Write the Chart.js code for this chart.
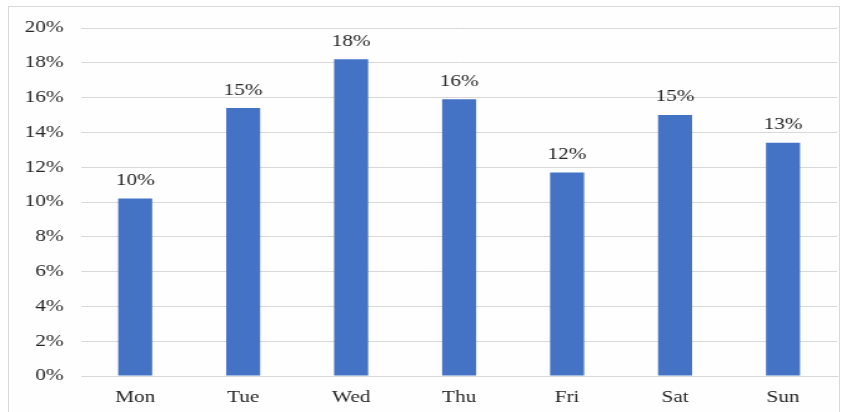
<!DOCTYPE html>
<html>
<head>
<meta charset="utf-8">
<script src="https://cdn.jsdelivr.net/npm/chart.js@4/dist/chart.umd.min.js"></script>
<style>
  html, body { margin: 0; padding: 0; background: #fff; }
  #wrap { position: relative; width: 852px; height: 412px; overflow: hidden; }
  #frame { position: absolute; left: 8px; top: 6px; width: 832px; height: 420px;
           border: 1px solid #d9d9d9; background: #fefefe; box-sizing: border-box; }
  #chart { position: absolute; left: 0; top: 0; }
</style>
</head>
<body>
<div id="wrap">
  <div id="frame"></div>
  <!-- drawn narrower and widened by CSS, text comes out horizontally stretched -->
  <canvas id="chart" width="682" height="412" style="width:852px;height:412px"></canvas>
</div>
<script>
// Share per weekday (%)
const days = ['Mon', 'Tue', 'Wed', 'Thu', 'Fri', 'Sat', 'Sun'];
const shares = [10.2, 15.4, 18.2, 15.9, 11.7, 15.0, 13.4];
const yTicks = [0, 2, 4, 6, 8, 10, 12, 14, 16, 18, 20];

const serif = '"Liberation Serif", "Times New Roman", serif';
const textColor = '#262626';

// value labels above each bar
const barLabels = {
    id: 'barLabels',
    afterDatasetsDraw(chart) {
        const ctx = chart.ctx;
        const meta = chart.getDatasetMeta(0);
        ctx.save();
        ctx.font = '17px ' + serif;
        ctx.fillStyle = textColor;
        ctx.textAlign = 'center';
        ctx.textBaseline = 'middle';
        meta.data.forEach((bar, i) => {
            ctx.fillText(Math.round(shares[i]) + '%', bar.x, bar.y - 18);
        });
        ctx.restore();
    }
};

new Chart(document.getElementById('chart').getContext('2d'), {
    type: 'bar',
    data: {
        labels: days,
        datasets: [{
            data: shares,
            backgroundColor: '#4472C4',
            barPercentage: 0.315,
            categoryPercentage: 1
        }]
    },
    options: {
        responsive: false,
        animation: false,
        devicePixelRatio: 1,
        layout: { padding: { top: 28, right: 12, left: 0, bottom: 0 } },
        plugins: { legend: { display: false }, tooltip: { enabled: false } },
        scales: {
            x: {
                grid: { display: false },
                border: { color: '#d9d9d9' },
                ticks: { color: textColor, font: { family: serif, size: 17 }, padding: 3 },
                afterFit(scale) { scale.height = 36; }
            },
            y: {
                min: 0,
                max: 20,
                afterBuildTicks(scale) { scale.ticks = yTicks.map(v => ({ value: v })); },
                grid: { color: '#d9d9d9', drawTicks: false },
                border: { display: false },
                ticks: {
                    color: textColor,
                    font: { family: serif, size: 17 },
                    padding: 14,
                    callback: v => v + '%'
                },
                afterFit(scale) { scale.width = 65; }
            }
        }
    },
    plugins: [barLabels]
});
</script>
</body>
</html>
